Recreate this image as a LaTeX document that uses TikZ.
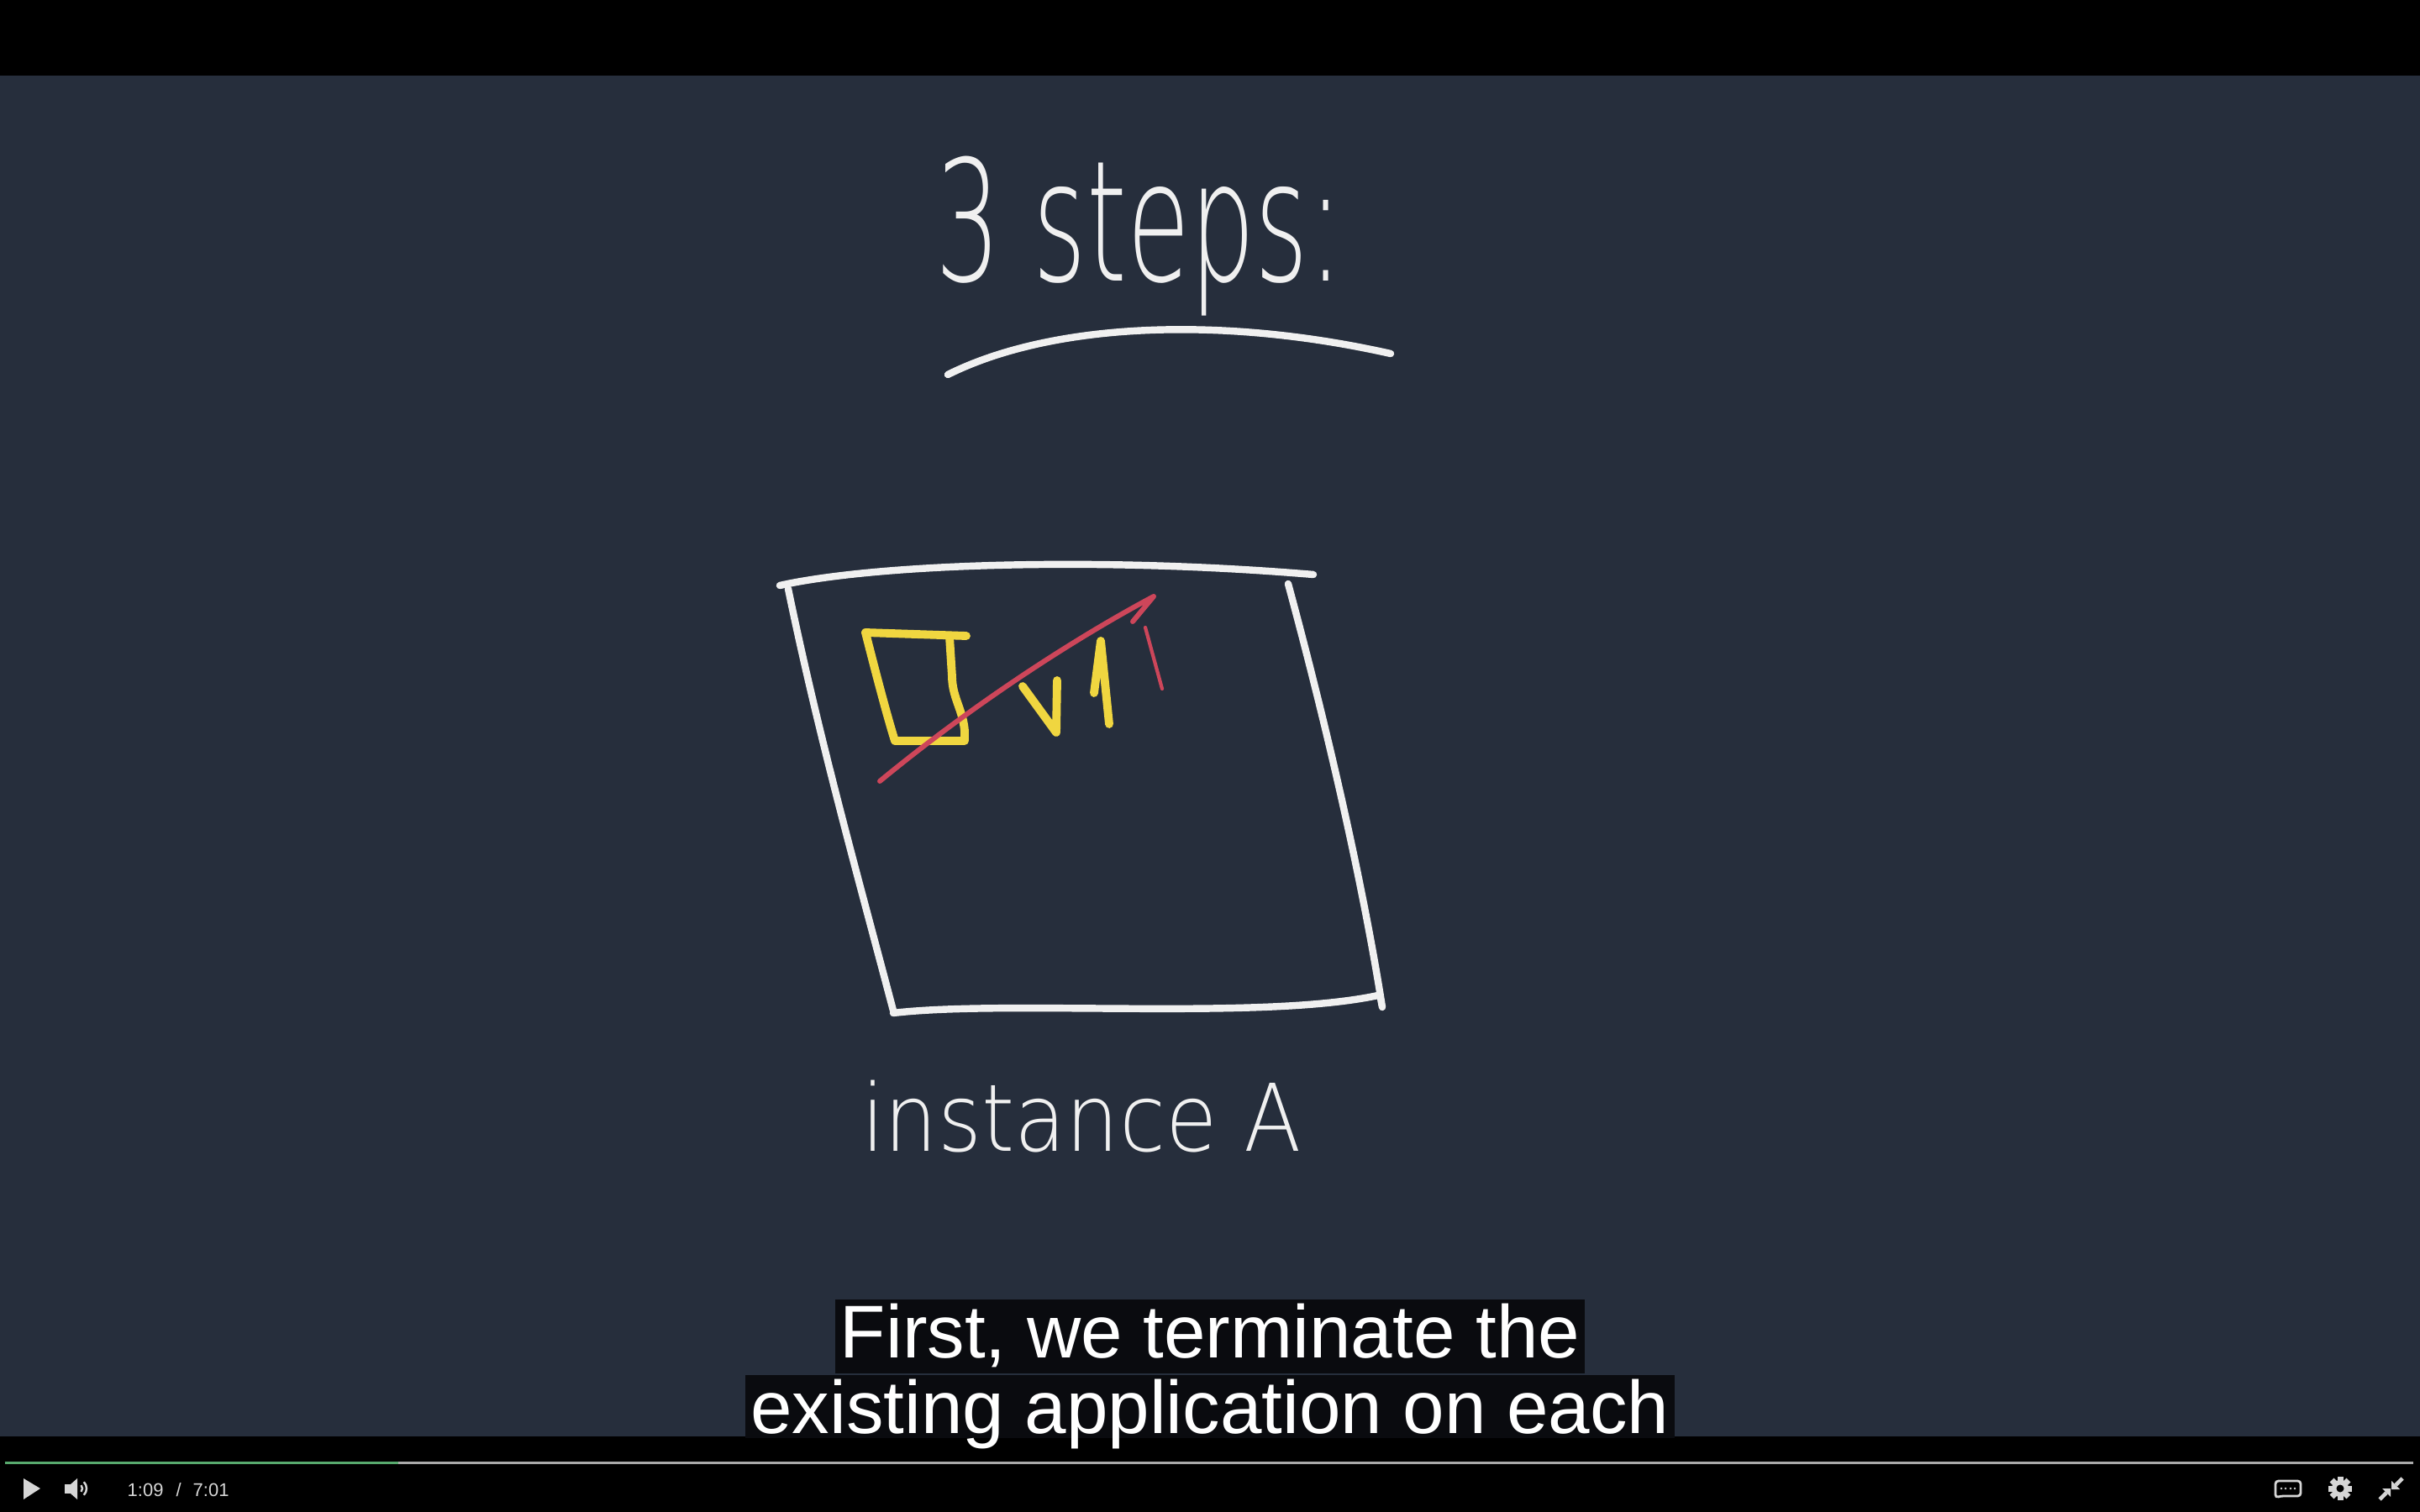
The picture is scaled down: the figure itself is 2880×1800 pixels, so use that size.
\documentclass[tikz,border=0pt]{standalone}
\usepackage{fontspec}
\usepackage{graphicx}
\newfontfamily\capfont{Liberation Sans}
\newfontfamily\handfont{DejaVu Sans}[UprightFont=* ExtraLight]
\definecolor{boardbg}{RGB}{38,46,60}
\definecolor{chalk}{RGB}{240,240,240}
\definecolor{chalkyellow}{RGB}{240,214,64}
\definecolor{chalkred}{RGB}{205,70,90}
\definecolor{capblack}{RGB}{10,11,15}
\definecolor{ctrlgray}{RGB}{214,214,214}
\definecolor{progressgreen}{RGB}{88,170,110}
\definecolor{progressgray}{RGB}{170,170,170}

\begin{document}
\begin{tikzpicture}[x=0.01cm, y=-0.01cm,
  chalkline/.style={draw=chalk, line width=2.4pt, line cap=round, line join=round},
  yellowline/.style={draw=chalkyellow, line width=2.8pt, line cap=round, line join=round},
  redline/.style={draw=chalkred, line width=1.7pt, line cap=round, line join=round},
  handtext/.style={text=chalk, inner sep=0pt, font=\handfont},
  capline/.style={fill=capblack, text=white, inner xsep=0.06cm, inner ysep=0pt, text height=0.69cm}]
	\useasboundingbox (0,0) rectangle (2880,1800);
	\fill[boardbg] (0,0) rectangle (2880,1800);
	\fill[black] (0,0) rectangle (2880,90);
	% title
	\node[handtext, anchor=base] (title) at (1356,335) {\scalebox{0.61}[1]{\fontsize{56.9pt}{60pt}\selectfont 3 steps:}};
	\draw[chalkline] (1128,446) .. controls (1250,385) and (1450,375) .. (1655,421);
	% instance box
	\draw[chalkline] (928,697) .. controls (1040,672) and (1300,662) .. (1563,684);
	\draw[chalkline] (938,701) .. controls (975,880) and (1020,1040) .. (1063,1203);
	\draw[chalkline] (1533,695) .. controls (1575,850) and (1620,1040) .. (1645,1199) -- (1642,1183);
	\draw[chalkline] (1063,1206) .. controls (1200,1190) and (1500,1215) .. (1640,1185);
	\draw[yellowline] (1150,757) -- (1030,753) .. controls (1042,800) and (1055,850) .. (1065,882) -- (1148,882) -- (1148,870) .. controls (1146,845) and (1133,830) .. (1133,805) -- (1130,758);
	\draw[yellowline] (1217,817) -- (1257,872) -- (1258,810);
	\draw[yellowline] (1302,825) -- (1310,763) -- (1320,862);
	\draw[redline] (1047,930) .. controls (1150,845) and (1270,765) .. (1373,710) -- (1348,740);
	\draw[redline, line width=1.2pt] (1363,747) -- (1383,820);
	\node[handtext, anchor=base] (label) at (1287,1370) {\scalebox{0.9}[1]{\fontsize{31.6pt}{34pt}\selectfont instance A}};
	% player bar
	\fill[black] (0,1710) rectangle (2880,1800);
	\node[capline, anchor=base, text depth=0.19cm, font=\capfont\fontsize{25.3pt}{28pt}\selectfont] (cap1) at (1440,1616) {First, we terminate the};
	\node[capline, anchor=base, text depth=0.06cm, font=\capfont\fontsize{25.3pt}{28pt}\selectfont] (cap2) at (1440,1706) {existing application on each};
	\draw[progressgray, line width=0.85pt] (6,1741) -- (2872,1741);
	\draw[progressgreen, line width=0.85pt] (6,1741) -- (474,1741);
	\fill[ctrlgray] (28,1760) -- (48,1772) -- (28,1785) -- cycle;
	\fill[ctrlgray] (77,1767) rectangle (84,1778);
	\fill[ctrlgray] (84,1767) -- (92,1760) -- (92,1785) -- (84,1778) -- cycle;
	\draw[ctrlgray, line width=0.7pt] ([shift={(-40:6)}]92,1772) arc[start angle=-40, end angle=40, radius=6];
	\draw[ctrlgray, line width=0.7pt] ([shift={(-45:11)}]92,1772) arc[start angle=-45, end angle=45, radius=11];
	\node[anchor=base west, inner sep=0pt, text=ctrlgray, font=\capfont\fontsize{6.26pt}{7pt}\selectfont] (time) at (151,1781) {1:09\hspace{0.15cm}/\hspace{0.14cm}7:01};
	\draw[ctrlgray, line width=0.8pt, rounded corners=1pt] (2708,1783) -- (2708,1763) -- (2738,1763) -- (2738,1781) -- (2714,1781) -- cycle;
	\foreach \dx in {2715,2720,2726,2731}
		\fill[ctrlgray] (\dx,1772) circle (1.3);
	\fill[ctrlgray] (2785,1772) circle (10);
	\foreach \a in {0,45,...,315}
		\fill[ctrlgray, shift={(2785,1772)}, rotate=\a] (8,-3.5) rectangle (14,3.5);
	\fill[black] (2785,1772) circle (4.5);
	\draw[ctrlgray, line width=1.3pt] (2859,1760) -- (2851,1768);
	\fill[ctrlgray] (2846,1773) -- (2846,1763) -- (2856,1773) -- cycle;
	\draw[ctrlgray, line width=1.3pt] (2832,1785) -- (2840,1777);
	\fill[ctrlgray] (2845,1772) -- (2845,1782) -- (2835,1772) -- cycle;
\end{tikzpicture}
\end{document}
